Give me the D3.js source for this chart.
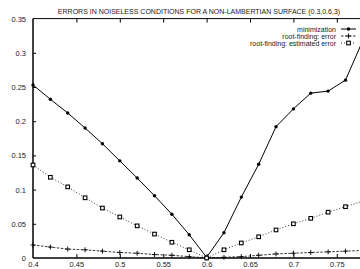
<!DOCTYPE html>
<html>
<head>
<meta charset="utf-8">
<script src="https://cdn.jsdelivr.net/npm/d3@7"></script>
<style>
  body { margin: 0; background: #fff; }
  text { font-family: "Liberation Sans", Arial, sans-serif; fill: #222; }
</style>
</head>
<body>
<svg id="chart" width="360" height="269"></svg>
<script>
// sample positions along x
const xs = [0.40, 0.42, 0.44, 0.46, 0.48, 0.50, 0.52, 0.54, 0.56, 0.58, 0.60,
            0.62, 0.64, 0.66, 0.68, 0.70, 0.72, 0.74, 0.76, 0.78];

const minimization = [0.253, 0.232, 0.212, 0.190, 0.167, 0.142, 0.117, 0.091, 0.064, 0.034, 0.001,
                      0.037, 0.089, 0.137, 0.192, 0.218, 0.241, 0.244, 0.260, 0.318];
const rootError = [0.019, 0.016, 0.013, 0.012, 0.010, 0.008, 0.007, 0.005, 0.004, 0.002, 0.000,
                   0.001, 0.002, 0.004, 0.006, 0.007, 0.008, 0.009, 0.010, 0.011];
const rootEstimated = [0.136, 0.118, 0.104, 0.088, 0.073, 0.060, 0.047, 0.035, 0.023, 0.012, 0.000,
                       0.012, 0.022, 0.031, 0.041, 0.050, 0.058, 0.067, 0.075, 0.083];

const xTicks = [0.4, 0.45, 0.5, 0.55, 0.6, 0.65, 0.7, 0.75];
const yTicks = [0, 0.05, 0.1, 0.15, 0.2, 0.25, 0.3, 0.35];
const seriesNames = ["minimization", "root-finding: error", "root-finding: estimated error"];

const svg = d3.select("#chart");
const x = d3.scaleLinear().domain([0.4, 0.8]).range([33, 380.2]);
const y = d3.scaleLinear().domain([0, 0.35]).range([258, 18.6]);

svg.append("text")
    .attr("x", 199).attr("y", 14)
    .attr("text-anchor", "middle")
    .attr("font-size", 7)
    .text("ERRORS IN NOISELESS CONDITIONS FOR A NON-LAMBERTIAN SURFACE (0.3,0.6,3)");

// frame
const frame = svg.append("g").attr("stroke", "#000").attr("stroke-width", 1).attr("fill", "none");
frame.append("line").attr("x1", x(0.4)).attr("x2", 360).attr("y1", y(0.35)).attr("y2", y(0.35));
frame.append("line").attr("x1", x(0.4)).attr("x2", 360).attr("y1", y(0)).attr("y2", y(0)).attr("stroke-width", 1.5);
frame.append("line").attr("x1", x(0.4)).attr("x2", x(0.4)).attr("y1", y(0.35)).attr("y2", y(0)).attr("stroke-width", 1.5);

// axes with inward ticks
const xAxis = svg.append("g").attr("transform", `translate(0,${y(0)})`)
    .call(d3.axisBottom(x).tickValues(xTicks).tickSize(-4).tickPadding(4).tickFormat(d3.format("")));
xAxis.select(".domain").remove();
xAxis.selectAll(".tick line").filter(d => d === 0.4).remove();

const xTop = svg.append("g").attr("transform", `translate(0,${y(0.35)})`)
    .call(d3.axisTop(x).tickValues(xTicks.slice(1)).tickSize(-4).tickFormat(""));
xTop.select(".domain").remove();

const yAxis = svg.append("g").attr("transform", `translate(${x(0.4)},0)`)
    .call(d3.axisLeft(y).tickValues(yTicks).tickSize(-3).tickPadding(7).tickFormat(d3.format("")));
yAxis.select(".domain").remove();
yAxis.selectAll(".tick line").filter(d => d === 0 || d === 0.35).remove();

svg.selectAll(".tick text").attr("font-size", 7.5).attr("fill", "#222").attr("font-family", "Liberation Sans, Arial, sans-serif");
svg.selectAll(".tick line").attr("stroke", "#000");

const plot = svg.append("g");
const line = vals => d3.line().x((d, i) => x(xs[i])).y(d => y(d))(vals);

plot.append("path").attr("d", line(rootEstimated))
    .attr("fill", "none").attr("stroke", "#000").attr("stroke-width", 0.8).attr("stroke-dasharray", "1,2");
plot.append("path").attr("d", line(rootError))
    .attr("fill", "none").attr("stroke", "#000").attr("stroke-width", 0.8).attr("stroke-dasharray", "2.5,1.5");
plot.append("path").attr("d", line(minimization))
    .attr("fill", "none").attr("stroke", "#000").attr("stroke-width", 1);

function circles(vals) {
  plot.selectAll(null).data(vals).enter().append("circle")
      .attr("cx", (d, i) => x(xs[i])).attr("cy", d => y(d)).attr("r", 1.7).attr("fill", "#000");
}
function pluses(vals) {
  plot.selectAll(null).data(vals).enter().append("path")
      .attr("d", (d, i) => { const cx = x(xs[i]), cy = y(d);
        return `M${cx - 2.5},${cy}H${cx + 2.5}M${cx},${cy - 2.5}V${cy + 2.5}`; })
      .attr("stroke", "#000").attr("stroke-width", 0.9);
}
function squares(vals) {
  plot.selectAll(null).data(vals).enter().append("rect")
      .attr("x", (d, i) => x(xs[i]) - 1.8).attr("y", d => y(d) - 1.8)
      .attr("width", 3.6).attr("height", 3.6)
      .attr("fill", "#fff").attr("stroke", "#000").attr("stroke-width", 1.1);
}
circles(minimization);
pluses(rootError);
squares(rootEstimated);

// legend
const legend = svg.append("g");
const rowY = [29, 36, 43];
const dashes = [null, "2.5,1.5", "1,2"];
seriesNames.forEach((name, i) => {
  legend.append("text").attr("x", 336).attr("y", rowY[i] + 2.5)
      .attr("text-anchor", "end").attr("font-size", 7).text(name);
  legend.append("line").attr("x1", 341).attr("x2", 356).attr("y1", rowY[i]).attr("y2", rowY[i])
      .attr("stroke", "#000").attr("stroke-width", i === 0 ? 1 : 0.8)
      .attr("stroke-dasharray", dashes[i]);
  const cx = 348.5, cy = rowY[i];
  if (i === 0) legend.append("circle").attr("cx", cx).attr("cy", cy).attr("r", 1.7).attr("fill", "#000");
  if (i === 1) legend.append("path").attr("d", `M${cx - 2.5},${cy}H${cx + 2.5}M${cx},${cy - 2.5}V${cy + 2.5}`)
      .attr("stroke", "#000").attr("stroke-width", 0.9);
  if (i === 2) legend.append("rect").attr("x", cx - 1.8).attr("y", cy - 1.8).attr("width", 3.6).attr("height", 3.6)
      .attr("fill", "#fff").attr("stroke", "#000").attr("stroke-width", 1.1);
});
</script>
</body>
</html>
